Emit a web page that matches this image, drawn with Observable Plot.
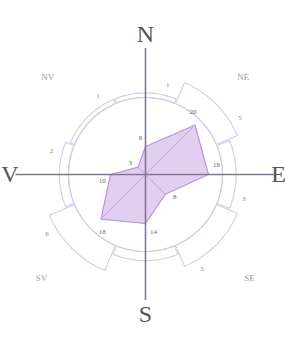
<!DOCTYPE html>
<html><head><meta charset="utf-8">
<script src="https://cdn.jsdelivr.net/npm/d3@7"></script>
<script src="https://cdn.jsdelivr.net/npm/@observablehq/plot@0.6"></script>
<style>body{margin:0;background:#fff}</style>
</head><body><div id="chart"></div>
<script>
// ---- data ----
const directions = ["N", "NE", "E", "SE", "S", "SV", "V", "NV"];
const innerValues = [8, 20, 18, 8, 14, 18, 10, 3];     // purple polygon
const outerValues = [1, 5, 3, 5, 2, 6, 2, 1];          // outer ring sectors
const outerLabels = ["1", "5", "3", "5", "", "6", "2", "1"];

// ---- layout ----
const W = 286, H = 338, CX = 145, CY = 174, PX = 3.5;
const R0 = 22, K = 1.3, HALF = 22, AXIS = 36;
const rad = d => d * Math.PI / 180;
const pol = (r, deg) => ({x: r * Math.sin(rad(deg)), y: r * Math.cos(rad(deg))});
const ang = i => i * 45;

const poly = directions.map((d, i) => ({dir: d, ...pol(innerValues[i], ang(i)), v: innerValues[i]}));
const spokes = poly.map(p => ({x1: 0, y1: 0, x2: p.x, y2: p.y}));

const circle = d3.range(0, 361, 3).map(a => pol(R0, a));
const sectors = [];
directions.forEach((d, i) => {
  const a = ang(i), ro = R0 + outerValues[i] * K;
  const pts = [];
  for (let t = a - HALF; t <= a + HALF; t += 2) pts.push(pol(R0, t));
  for (let t = a + HALF; t >= a - HALF; t -= 2) pts.push(pol(ro, t));
  pts.push(pol(R0, a - HALF));
  pts.forEach(p => sectors.push({dir: d, ...p}));
});
const outerText = directions.map((d, i) => ({t: outerLabels[i], ...pol(R0 + outerValues[i] * K + 3, ang(i) + 14)}));
const innerText = directions.map((d, i) => ({t: String(innerValues[i]), ...pol(innerValues[i] + 2.5, ang(i) - 8)}));
const cardNS = ["N", "S"].map(d => ({t: d, ...pol(40, ang(directions.indexOf(d)))}));
const cardW = [{t: "V", ...pol(41.2, ang(directions.indexOf("V")))}];
const cardE = [{t: "E", ...pol(40.1, ang(directions.indexOf("E")))}];
const inter = directions.filter((d, i) => i % 2 === 1).map(d => {
  const i = directions.indexOf(d);
  return {t: d, ...pol(i === 1 || i === 7 ? 39.5 : 42, ang(i))};
});
const cardStyle = {x: "x", y: "y", text: "t", fontSize: 24, fill: "#555", fontFamily: "Liberation Serif"};

const plot = Plot.plot({
  width: W, height: H, margin: 0,
  x: {domain: [-CX / PX, (W - CX) / PX], range: [0, W], axis: null},
  y: {domain: [-(H - CY) / PX, CY / PX], range: [H, 0], axis: null},
  style: {background: "white", overflow: "hidden"},
  marks: [
    Plot.line(circle, {x: "x", y: "y", stroke: "#d8d0e8", strokeWidth: 1.1}),
    Plot.line(sectors, {x: "x", y: "y", z: "dir", stroke: "#d4cae6", strokeWidth: 1.1}),
    Plot.line(poly, {x: "x", y: "y", curve: "linear-closed", fill: "#dcc6ee", fillOpacity: 0.85, stroke: "#b898d4", strokeWidth: 1.2}),
    Plot.link(spokes, {x1: "x1", y1: "y1", x2: "x2", y2: "y2", stroke: "#c4a6dc", strokeWidth: 1}),
    Plot.ruleX([0], {y1: -AXIS, y2: AXIS, stroke: "#7f7a92", strokeWidth: 1.6}),
    Plot.ruleY([0], {x1: -AXIS - 1, x2: AXIS + 1, stroke: "#7f7a92", strokeWidth: 1.6}),
    Plot.text(innerText, {x: "x", y: "y", text: "t", fontSize: 7, fill: "#666", fontFamily: "Liberation Serif"}),
    Plot.text(outerText, {x: "x", y: "y", text: "t", fontSize: 7, fill: "#888", fontFamily: "Liberation Serif"}),
    Plot.text(cardNS, cardStyle),
    Plot.text(cardW, {...cardStyle, textAnchor: "start"}),
    Plot.text(cardE, {...cardStyle, textAnchor: "end"}),
    Plot.text(inter, {x: "x", y: "y", text: "t", fontSize: 9, fill: "#9a9a9a", fontFamily: "Liberation Serif"})
  ]
});
document.getElementById("chart").append(plot);
</script>
</body></html>
